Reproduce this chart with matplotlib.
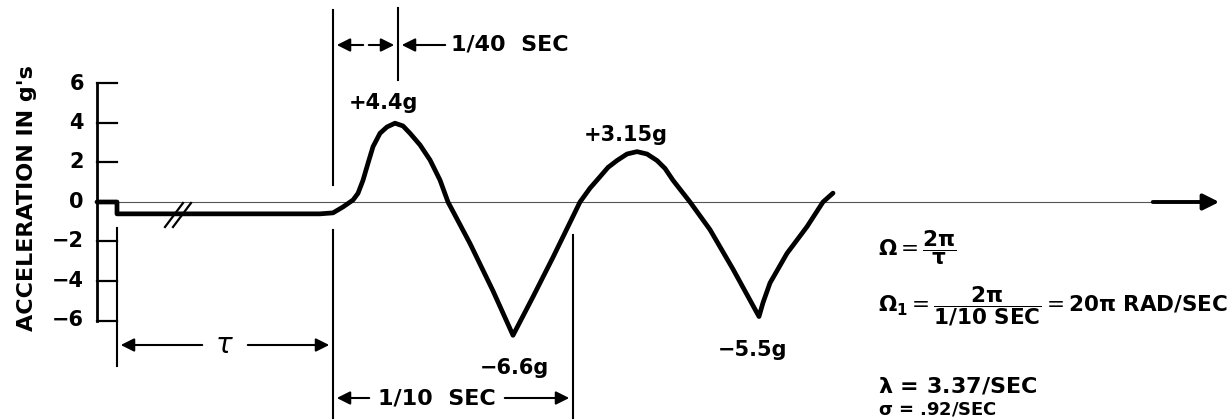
import matplotlib.pyplot as plt

plt.rcParams['font.family'] = ['DejaVu Sans']
plt.rcParams['mathtext.fontset'] = 'dejavusans'

# acceleration trace (horizontal position, g)
pos = [97, 117, 117, 320, 333, 343, 353, 358, 363, 368, 373, 380, 387, 395,
       403, 410, 420, 430, 440, 448, 470, 493, 513, 533, 553, 580, 590, 600,
       608, 617, 627, 637, 647, 657, 665, 673, 690, 710, 733, 759, 763, 770,
       787, 807, 823, 833]
accel = [0, 0, -0.6, -0.6, -0.55, -0.25, 0.1, 0.44, 1.1, 1.96, 2.8, 3.48,
         3.8, 3.99, 3.85, 3.48, 2.89, 2.13, 1.11, 0, -2.1, -4.5, -6.75, -4.8,
         -2.8, 0, 0.7, 1.28, 1.75, 2.1, 2.43, 2.55, 2.43, 2.1, 1.7, 1.1, 0,
         -1.4, -3.4, -5.8, -5.1, -4.1, -2.6, -1.25, 0, 0.45]

yticks = [6, 4, 2, 0, -2, -4, -6]
peak_labels = ['+4.4g', '\u22126.6g', '+3.15g', '\u22125.5g']
peak_pos = [(383, 103), (514, 368), (626, 135), (753, 350)]

PX_PER_G = 19.75
ZERO_PX = 202


def gy(p):
    # picture row -> g value
    return (ZERO_PX - p) / PX_PER_G


fig = plt.figure(figsize=(12.31, 4.2), dpi=100)
ax = fig.add_axes([0, 0, 1, 1])
ax.set_xlim(0, 1231)
ax.set_ylim(gy(420), gy(0))
ax.axis('off')

# y axis with ticks
ax.plot([97, 97], [min(yticks), max(yticks)], color='black', lw=2)
for t in yticks:
    ax.plot([97, 117], [t, t], color='black', lw=1.6)
    ax.text(84, t, str(t).replace('-', '\u2212'), ha='right', va='center',
            fontsize=15, fontweight='bold')
ax.text(27, gy(198), "ACCELERATION IN g's", rotation=90, ha='center',
        va='center', fontsize=16, fontweight='bold')

# zero line with arrow
ax.plot([117, 1160], [0, 0], color='#555555', lw=0.8)
ax.annotate('', xy=(1222, 0), xytext=(1150, 0),
            arrowprops=dict(arrowstyle='-|>', lw=2.8, color='black',
                            mutation_scale=24))

# trace
ax.plot(pos, accel, color='black', lw=3.4, solid_joinstyle='round',
        solid_capstyle='round')

# break marks
for dx in (0, 8):
    ax.plot([165 + dx, 183 + dx], [gy(227), gy(203)], color='black', lw=1.6)

# vertical reference lines
vl = dict(color='black', lw=1.5)
ax.plot([333, 333], [gy(10), gy(185)], **vl)
ax.plot([333, 333], [gy(230), gy(418)], **vl)
ax.plot([398, 398], [gy(8), gy(80)], **vl)
ax.plot([117, 117], [gy(228), gy(366)], **vl)
ax.plot([573, 573], [gy(235), gy(418)], **vl)

arr = dict(arrowstyle='-|>', lw=1.5, color='black', mutation_scale=20)
# 1/40 sec
y40 = gy(45)
ax.annotate('', xy=(334, y40), xytext=(366, y40), arrowprops=arr)
ax.annotate('', xy=(397, y40), xytext=(366, y40), arrowprops=arr)
ax.annotate('', xy=(399, y40), xytext=(448, y40), arrowprops=arr)
ax.text(451, y40, '1/40  SEC', ha='left', va='center', fontsize=16,
        fontweight='bold')

# tau
yt = gy(345)
ax.annotate('', xy=(118, yt), xytext=(205, yt), arrowprops=arr)
ax.annotate('', xy=(332, yt), xytext=(245, yt), arrowprops=arr)
ax.text(224, yt, r'$\tau$', ha='center', va='center', fontsize=20)

# 1/10 sec
y10 = gy(398)
ax.annotate('', xy=(334, y10), xytext=(372, y10), arrowprops=arr)
ax.annotate('', xy=(572, y10), xytext=(502, y10), arrowprops=arr)
ax.text(437, y10, '1/10  SEC', ha='center', va='center', fontsize=16,
        fontweight='bold')

for lab, (px, py) in zip(peak_labels, peak_pos):
    ax.text(px, gy(py), lab, ha='center', va='center', fontsize=15,
            fontweight='bold')

# equations
ax.text(878, gy(248),
        r'$\mathbf{\Omega} = \dfrac{\mathbf{2\pi}}{\mathbf{\tau}}$',
        ha='left', va='center', fontsize=15.5)
ax.text(878, gy(306),
        r'$\mathbf{\Omega_1} = \dfrac{\mathbf{2\pi}}{\mathbf{1/10\ SEC}}'
        r' = \mathbf{20\pi\ RAD/SEC}$',
        ha='left', va='center', fontsize=15.5)
ax.text(878, gy(386), r'$\mathbf{\lambda}$ = 3.37/SEC', ha='left',
        va='center', fontsize=16, fontweight='bold')
ax.text(878, gy(409), r'$\mathbf{\sigma}$ = .92/SEC', ha='left',
        va='center', fontsize=13, fontweight='bold')

fig.savefig('out.png', dpi=100)
